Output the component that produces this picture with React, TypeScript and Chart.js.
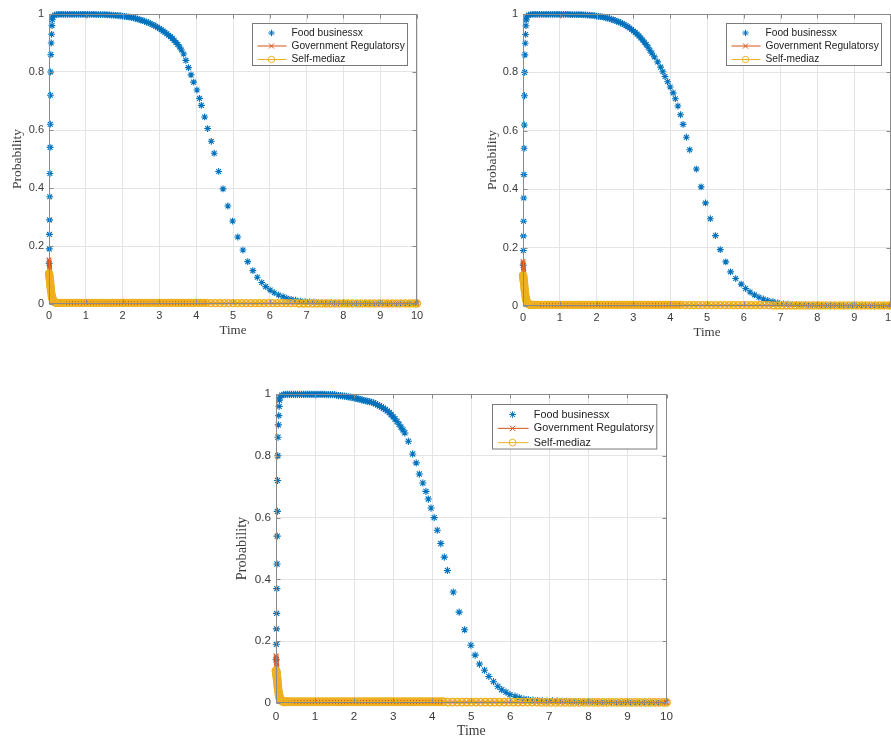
import React, { useEffect, useRef } from "react";
import { Chart, registerables } from "chart.js";

Chart.register(...registerables);

// ---------- data ----------
const X_TICKS = [0, 1, 2, 3, 4, 5, 6, 7, 8, 9, 10];
const Y_TICKS = [0, 0.2, 0.4, 0.6, 0.8, 1];
const SERIES_NAMES = ["Food businessx", "Government Regulatorsy", "Self-mediaz"];
const X_TITLE = "Time";
const Y_TITLE = "Probability";

// Food business, shared start (t = 0 .. 1.5), same in all three panels
const FOOD_HEAD_T = [
  0, 0.004, 0.008, 0.012, 0.016, 0.02, 0.025, 0.03, 0.035, 0.04, 0.045, 0.05, 0.06, 0.07, 0.08, 0.09, 0.1,
  0.15, 0.2, 0.25, 0.3, 0.35, 0.4, 0.45, 0.5, 0.55, 0.6, 0.65, 0.7, 0.75, 0.8, 0.85, 0.9, 0.95, 1.0,
  1.05, 1.1, 1.15, 1.2, 1.25, 1.3, 1.35, 1.4, 1.45, 1.5,
];
const FOOD_HEAD = [
  0.10, 0.14, 0.19, 0.24, 0.29, 0.37, 0.45, 0.54, 0.62, 0.72, 0.80, 0.86, 0.90, 0.93, 0.96, 0.98, 0.99,
  0.996, 0.998, 0.999, 0.999, 0.999, 0.999, 0.999, 0.999, 0.999, 0.999, 0.999, 0.999, 0.999, 0.999, 0.999, 0.999, 0.999, 0.999,
  0.999, 0.999, 0.999, 0.999, 0.999, 0.998, 0.998, 0.998, 0.998, 0.998,
];

// Panel 1 (top left)
const FOOD1_T = [
  1.55, 1.6, 1.65, 1.7, 1.75, 1.8, 1.85, 1.9, 1.95, 2.0,
  2.05, 2.1, 2.15, 2.2, 2.25, 2.3, 2.35, 2.4, 2.45, 2.5,
  2.55, 2.6, 2.65, 2.7, 2.75, 2.8, 2.85, 2.9, 2.95, 3.0,
  3.05, 3.1, 3.15, 3.2, 3.25, 3.3, 3.35, 3.4, 3.45, 3.5, 3.55, 3.6,
  3.66, 3.72, 3.79, 3.86, 3.93, 4.02, 4.09, 4.14, 4.23, 4.31, 4.41, 4.49, 4.61, 4.73, 4.86, 4.99,
  5.13, 5.27, 5.40, 5.54, 5.66, 5.78, 5.89, 6.01, 6.12, 6.24, 6.36, 6.46, 6.58, 6.70, 6.83, 6.96,
];
const FOOD1 = [
  0.998, 0.997, 0.997, 0.996, 0.996, 0.995, 0.995, 0.994, 0.994, 0.993,
  0.992, 0.991, 0.990, 0.989, 0.988, 0.987, 0.985, 0.983, 0.981, 0.979,
  0.977, 0.975, 0.972, 0.970, 0.967, 0.964, 0.961, 0.958, 0.954, 0.950,
  0.946, 0.941, 0.937, 0.932, 0.927, 0.922, 0.916, 0.909, 0.902, 0.895, 0.886, 0.876,
  0.862, 0.840, 0.815, 0.790, 0.765, 0.738, 0.709, 0.685, 0.645, 0.605, 0.561, 0.520, 0.457, 0.397, 0.338, 0.286,
  0.231, 0.186, 0.146, 0.115, 0.092, 0.074, 0.060, 0.048, 0.039, 0.031, 0.025, 0.020, 0.016, 0.013, 0.010, 0.008,
];

// Panel 2 (top right)
const FOOD2_T = [
  1.55, 1.6, 1.65, 1.7, 1.75, 1.8, 1.85, 1.9, 1.95, 2.0,
  2.05, 2.1, 2.15, 2.2, 2.25, 2.3, 2.35, 2.4, 2.45, 2.5,
  2.55, 2.6, 2.65, 2.7, 2.75, 2.8, 2.85, 2.9, 2.95, 3.0,
  3.05, 3.1, 3.15, 3.2, 3.25, 3.3, 3.35, 3.4, 3.45, 3.5,
  3.57, 3.66, 3.74, 3.80, 3.86, 3.93, 4.00, 4.08, 4.14, 4.21, 4.28, 4.35, 4.44, 4.53, 4.71, 4.84,
  4.96, 5.09, 5.23, 5.36, 5.51, 5.64, 5.78, 5.93, 6.05, 6.17, 6.29, 6.41, 6.53, 6.65, 6.79, 6.92,
];
const FOOD2 = [
  0.998, 0.998, 0.997, 0.997, 0.996, 0.996, 0.995, 0.995, 0.994, 0.993,
  0.992, 0.991, 0.990, 0.989, 0.987, 0.986, 0.984, 0.982, 0.980, 0.978,
  0.975, 0.973, 0.970, 0.967, 0.964, 0.960, 0.956, 0.952, 0.947, 0.942,
  0.937, 0.931, 0.925, 0.918, 0.911, 0.903, 0.895, 0.886, 0.876, 0.866,
  0.853, 0.836, 0.818, 0.802, 0.786, 0.768, 0.750, 0.730, 0.710, 0.685, 0.655, 0.622, 0.578, 0.535, 0.469, 0.408,
  0.353, 0.299, 0.241, 0.193, 0.151, 0.117, 0.094, 0.075, 0.060, 0.048, 0.038, 0.030, 0.024, 0.019, 0.015, 0.011,
];

// Panel 3 (bottom)
const FOOD3_T = [
  1.55, 1.6, 1.65, 1.7, 1.75, 1.8, 1.85, 1.9, 1.95, 2.0,
  2.05, 2.1, 2.15, 2.2, 2.25, 2.3, 2.35, 2.4, 2.45, 2.5,
  2.55, 2.6, 2.65, 2.7, 2.75, 2.8, 2.85, 2.9, 2.95, 3.0,
  3.05, 3.1, 3.15, 3.2, 3.25, 3.3,
  3.39, 3.50, 3.59, 3.67, 3.76, 3.84, 3.90, 3.97, 4.05, 4.13, 4.22, 4.31, 4.39, 4.54, 4.69, 4.83, 4.99,
  5.10, 5.21, 5.34, 5.45, 5.57, 5.68, 5.78, 5.89, 5.99, 6.12, 6.23, 6.35, 6.46, 6.58, 6.70, 6.82, 6.94,
];
const FOOD3 = [
  0.996, 0.995, 0.995, 0.994, 0.993, 0.992, 0.991, 0.990, 0.989, 0.987,
  0.986, 0.984, 0.983, 0.981, 0.979, 0.978, 0.976, 0.975, 0.973, 0.971,
  0.968, 0.965, 0.962, 0.958, 0.954, 0.950, 0.945, 0.940, 0.933, 0.926,
  0.919, 0.911, 0.902, 0.893, 0.884, 0.874,
  0.847, 0.806, 0.777, 0.741, 0.712, 0.685, 0.660, 0.631, 0.600, 0.559, 0.516, 0.472, 0.429, 0.359, 0.294, 0.237, 0.187,
  0.155, 0.126, 0.106, 0.086, 0.069, 0.054, 0.043, 0.035, 0.027, 0.022, 0.017, 0.013, 0.011, 0.009, 0.008, 0.007, 0.006,
];

// Food business, shared tail (t = 7 .. 10)
const FOOD_TAIL_T = [
  7.08, 7.2, 7.32, 7.44, 7.56, 7.68, 7.8, 7.92, 8.04, 8.16, 8.28, 8.4, 8.52,
  8.64, 8.76, 8.88, 9.0, 9.12, 9.24, 9.36, 9.48, 9.6, 9.72, 9.84, 9.96,
];
const FOOD_TAIL = [
  0.007, 0.006, 0.005, 0.005, 0.004, 0.004, 0.003, 0.003, 0.003, 0.002, 0.002, 0.002, 0.002,
  0.002, 0.001, 0.001, 0.001, 0.001, 0.001, 0.001, 0.001, 0.001, 0.001, 0.001, 0.001,
];

// Government regulatory & self-media (same in all panels)
const GOV_T = [
  0, 0.004, 0.008, 0.012, 0.016, 0.02, 0.025, 0.03, 0.035, 0.04, 0.045, 0.05, 0.06, 0.07, 0.08, 0.09, 0.1,
  0.125, 0.15, 0.175, 0.2, 0.25, 0.3,
  0.36, 0.44, 0.52, 0.60, 0.68, 0.76, 0.84, 0.92, 1.00, 1.08,
  1.16, 1.24, 1.32, 1.40, 1.48, 1.56, 1.64, 1.72, 1.80, 1.88,
  1.96, 2.04, 2.12, 2.20, 2.28, 2.36, 2.44, 2.52, 2.60, 2.68,
  2.76, 2.84, 2.92, 3.00, 3.08, 3.16, 3.24, 3.32, 3.40, 3.48,
  3.56, 3.64, 3.72, 3.80, 3.88, 3.96, 4.04, 4.12, 4.20, 4.28,
  4.40, 4.52, 4.64, 4.76, 4.88, 5.00, 5.12, 5.24, 5.36, 5.48,
  5.60, 5.72, 5.84, 5.96, 6.08, 6.20, 6.32, 6.44, 6.56, 6.68,
  6.80, 6.92, 7.04, 7.16, 7.28, 7.40, 7.52, 7.64, 7.76, 7.88,
  8.00, 8.12, 8.24, 8.36, 8.48, 8.60, 8.72, 8.84, 8.96, 9.08,
  9.20, 9.32, 9.44, 9.56, 9.68, 9.80, 9.92, 10.0,
];
const GOV = [
  0.152, 0.146, 0.139, 0.131, 0.123, 0.115, 0.106, 0.097, 0.089, 0.081, 0.074, 0.067, 0.056, 0.046, 0.038, 0.031, 0.025,
  0.016, 0.011, 0.008, 0.006, 0.004, 0.003,
  0.003, 0.003, 0.003, 0.003, 0.003, 0.003, 0.003, 0.003, 0.003, 0.003,
  0.003, 0.003, 0.003, 0.003, 0.003, 0.003, 0.003, 0.003, 0.003, 0.003,
  0.003, 0.003, 0.003, 0.003, 0.003, 0.003, 0.003, 0.003, 0.003, 0.003,
  0.003, 0.003, 0.003, 0.003, 0.003, 0.003, 0.003, 0.003, 0.003, 0.003,
  0.003, 0.003, 0.003, 0.003, 0.003, 0.003, 0.003, 0.003, 0.003, 0.003,
  0.003, 0.003, 0.003, 0.003, 0.003, 0.003, 0.003, 0.003, 0.003, 0.003,
  0.003, 0.003, 0.003, 0.003, 0.003, 0.003, 0.003, 0.003, 0.003, 0.003,
  0.002, 0.002, 0.002, 0.002, 0.002, 0.002, 0.002, 0.002, 0.002, 0.002,
  0.002, 0.002, 0.002, 0.002, 0.002, 0.002, 0.002, 0.002, 0.002, 0.002,
  0.002, 0.002, 0.002, 0.002, 0.002, 0.002, 0.002, 0.002,
];
const SELF = [
  0.105, 0.102, 0.099, 0.095, 0.091, 0.087, 0.082, 0.076, 0.070, 0.063, 0.057, 0.051, 0.041, 0.032, 0.025, 0.020, 0.016,
  0.010, 0.007, 0.005, 0.004, 0.004, 0.004,
  0.004, 0.004, 0.004, 0.004, 0.004, 0.004, 0.004, 0.004, 0.004, 0.004,
  0.004, 0.004, 0.004, 0.004, 0.004, 0.004, 0.004, 0.004, 0.004, 0.004,
  0.004, 0.004, 0.004, 0.004, 0.004, 0.004, 0.004, 0.004, 0.004, 0.004,
  0.004, 0.004, 0.004, 0.004, 0.004, 0.004, 0.004, 0.004, 0.004, 0.004,
  0.004, 0.004, 0.004, 0.004, 0.004, 0.004, 0.004, 0.004, 0.004, 0.004,
  0.003, 0.003, 0.003, 0.003, 0.003, 0.003, 0.003, 0.003, 0.003, 0.003,
  0.003, 0.003, 0.003, 0.003, 0.003, 0.003, 0.003, 0.003, 0.003, 0.003,
  0.002, 0.002, 0.002, 0.002, 0.002, 0.002, 0.002, 0.002, 0.002, 0.002,
  0.002, 0.002, 0.002, 0.002, 0.002, 0.002, 0.002, 0.002, 0.002, 0.002,
  0.002, 0.002, 0.002, 0.002, 0.002, 0.002, 0.002, 0.002,
];

// ---------- styling ----------
const BLUE = "#0072BD";
const ORANGE = "#D95319";
const YELLOW = "#EDB120";
const SANS = "'Liberation Sans', Arial, sans-serif";
const SERIF = "'Liberation Serif', 'Times New Roman', serif";

function zip(t: number[], y: number[]) {
  const n = Math.min(t.length, y.length);
  const out: { x: number; y: number }[] = [];
  for (let i = 0; i < n; i++) out.push({ x: t[i], y: y[i] });
  return out;
}

function drawMarker(ctx: CanvasRenderingContext2D, kind: string, x: number, y: number, r: number, color: string) {
  ctx.save();
  ctx.strokeStyle = color;
  ctx.lineWidth = 1;
  ctx.beginPath();
  if (kind === "star") {
    ctx.moveTo(x - r, y); ctx.lineTo(x + r, y);
    ctx.moveTo(x, y - r); ctx.lineTo(x, y + r);
    const d = r * 0.707;
    ctx.moveTo(x - d, y - d); ctx.lineTo(x + d, y + d);
    ctx.moveTo(x - d, y + d); ctx.lineTo(x + d, y - d);
  } else if (kind === "cross") {
    const d = r * 0.8;
    ctx.moveTo(x - d, y - d); ctx.lineTo(x + d, y + d);
    ctx.moveTo(x - d, y + d); ctx.lineTo(x + d, y - d);
  } else {
    ctx.arc(x, y, r, 0, Math.PI * 2);
  }
  ctx.stroke();
  ctx.restore();
}

const boxPlugin = {
  id: "matlabBox",
  afterDatasetsDraw(chart: any) {
    const { ctx, chartArea: ca, scales } = chart;
    ctx.save();
    ctx.strokeStyle = "#8a8a8a";
    ctx.lineWidth = 1;
    const l = Math.round(ca.left) + 0.5, r = Math.round(ca.right) - 0.5;
    const t = Math.round(ca.top) + 0.5, b = Math.round(ca.bottom) - 0.5;
    ctx.strokeRect(l, t, r - l, b - t);
    ctx.beginPath();
    const tl = 4;
    X_TICKS.forEach((v) => {
      const px = Math.round(scales.x.getPixelForValue(v)) + 0.5;
      ctx.moveTo(px, b); ctx.lineTo(px, b - tl);
      ctx.moveTo(px, t); ctx.lineTo(px, t + tl);
    });
    Y_TICKS.forEach((v) => {
      const py = Math.round(scales.y.getPixelForValue(v)) + 0.5;
      ctx.moveTo(l, py); ctx.lineTo(l + tl, py);
      ctx.moveTo(r, py); ctx.lineTo(r - tl, py);
    });
    ctx.stroke();
    ctx.restore();
  },
};

const legendPlugin = {
  id: "matlabLegend",
  afterDraw(chart: any, _args: any, opts: any) {
    const { ctx, chartArea: ca } = chart;
    const s = opts.scale || 1;
    const w = 155 * s, h = 42 * s;
    const x0 = Math.round(ca.right - 10 * s - w) + 0.5;
    const y0 = Math.round(ca.top + 9 * s) + 0.5;
    ctx.save();
    ctx.fillStyle = "#ffffff";
    ctx.fillRect(x0, y0, w, h);
    ctx.strokeStyle = "#7a7a7a";
    ctx.lineWidth = 1;
    ctx.strokeRect(x0, y0, w, h);
    const rows = [9.5, 22.5, 36];
    const kinds = ["star", "cross", "circle"];
    const colors = [BLUE, ORANGE, YELLOW];
    SERIES_NAMES.forEach((name, i) => {
      const cy = y0 + rows[i] * s;
      const mx = x0 + 19 * s;
      if (i > 0) {
        ctx.strokeStyle = colors[i];
        ctx.lineWidth = 1;
        ctx.beginPath();
        ctx.moveTo(x0 + 5 * s, cy);
        ctx.lineTo(x0 + 34 * s, cy);
        ctx.stroke();
      }
      drawMarker(ctx, kinds[i], mx, cy, 3.2 * s, colors[i]);
      ctx.fillStyle = "#222";
      ctx.font = `${(10.2 * s).toFixed(1)}px ${SANS}`;
      ctx.textBaseline = "middle";
      ctx.textAlign = "left";
      ctx.fillText(name, x0 + 39 * s, cy);
    });
    ctx.restore();
  },
};

type PanelProps = {
  area: { L: number; T: number; R: number; B: number };
  foodT: number[];
  food: number[];
  s: number;
  yTitlePad: number;
  xTitlePad: number;
  xTickPad: number;
};

function Panel({ area, foodT, food, s, yTitlePad, xTitlePad, xTickPad }: PanelProps) {
  const ref = useRef<HTMLCanvasElement | null>(null);
  const left = area.L - 49;
  const top = area.T - 14;
  const width = area.R - area.L + 62;
  const height = area.B - area.T + 56;

  useEffect(() => {
    if (!ref.current) return;
    const tickFont = { family: SANS, size: 11 * s };
    const chart = new Chart(ref.current, {
      type: "scatter",
      data: {
        datasets: [
          {
            label: SERIES_NAMES[0],
            data: zip(foodT, food),
            showLine: false,
            pointStyle: "star",
            pointRadius: 3.4 * s,
            pointBorderColor: BLUE,
            pointBackgroundColor: BLUE,
            pointBorderWidth: 1.1,
            borderColor: BLUE,
            order: 3,
            clip: false as any,
          },
          {
            label: SERIES_NAMES[1],
            data: zip(GOV_T, GOV),
            showLine: true,
            borderColor: ORANGE,
            borderWidth: 1,
            pointStyle: "crossRot",
            pointRadius: 3.2 * s,
            pointBorderColor: ORANGE,
            pointBorderWidth: 1.2,
            order: 2,
            clip: false as any,
          },
          {
            label: SERIES_NAMES[2],
            data: zip(GOV_T, SELF),
            showLine: true,
            borderColor: YELLOW,
            borderWidth: 1,
            pointStyle: "circle",
            pointRadius: 3.4 * s,
            pointBorderColor: YELLOW,
            pointBackgroundColor: "rgba(0,0,0,0)",
            pointBorderWidth: 1.6,
            order: 1,
            clip: false as any,
          },
        ],
      },
      options: {
        animation: false,
        responsive: false,
        maintainAspectRatio: false,
        devicePixelRatio: 1,
        layout: { padding: { left: 0, top: 14, right: 13, bottom: 0 } },
        plugins: {
          legend: { display: false },
          tooltip: { enabled: false },
          matlabLegend: { scale: s },
        } as any,
        scales: {
          x: {
            type: "linear",
            min: 0,
            max: 10,
            afterFit: (sc: any) => { sc.height = 42; },
            afterBuildTicks: (sc: any) => { sc.ticks = X_TICKS.map((v) => ({ value: v })); },
            ticks: {
              padding: xTickPad,
              font: tickFont,
              color: "#3a3a3a",
              maxRotation: 0,
              autoSkip: false,
              callback: (v: any) => String(Number(v)),
            },
            grid: { color: "#e4e4e4", drawTicks: false, lineWidth: 1 },
            border: { display: false },
            title: {
              display: true,
              text: X_TITLE,
              font: { family: SERIF, size: 13 * s },
              color: "#3a3a3a",
              padding: { top: 0, bottom: xTitlePad },
            },
          },
          y: {
            type: "linear",
            min: 0,
            max: 1,
            afterFit: (sc: any) => { sc.width = 49; },
            afterBuildTicks: (sc: any) => { sc.ticks = Y_TICKS.map((v) => ({ value: v })); },
            ticks: {
              padding: 5,
              font: tickFont,
              color: "#3a3a3a",
              autoSkip: false,
              callback: (v: any) => String(Number(Number(v).toFixed(2))),
            },
            grid: { color: "#e4e4e4", drawTicks: false, lineWidth: 1 },
            border: { display: false },
            title: {
              display: true,
              text: Y_TITLE,
              font: { family: SERIF, size: 13.5 * s },
              color: "#3a3a3a",
              padding: { top: yTitlePad, bottom: 0 },
            },
          },
        },
      } as any,
      plugins: [boxPlugin, legendPlugin],
    });
    return () => chart.destroy();
  }, []);

  return (
    <canvas
      ref={ref}
      width={width}
      height={height}
      style={{ position: "absolute", left, top, width, height }}
    />
  );
}

export default function App() {
  return (
    <div
      style={{
        position: "fixed",
        left: 0,
        top: 0,
        width: 891,
        height: 738,
        overflow: "hidden",
        background: "#ffffff",
      }}
    >
      <Panel
        area={{ L: 49, T: 14, R: 417, B: 304 }}
        foodT={[...FOOD_HEAD_T, ...FOOD1_T, ...FOOD_TAIL_T]}
        food={[...FOOD_HEAD, ...FOOD1, ...FOOD_TAIL]}
        s={1}
        yTitlePad={9}
        xTitlePad={8}
        xTickPad={5}
      />
      <Panel
        area={{ L: 523, T: 14, R: 891, B: 306 }}
        foodT={[...FOOD_HEAD_T, ...FOOD2_T, ...FOOD_TAIL_T]}
        food={[...FOOD_HEAD, ...FOOD2, ...FOOD_TAIL]}
        s={1}
        yTitlePad={10}
        xTitlePad={8}
        xTickPad={5}
      />
      <Panel
        area={{ L: 276, T: 394, R: 667, B: 703 }}
        foodT={[...FOOD_HEAD_T, ...FOOD3_T, ...FOOD_TAIL_T]}
        food={[...FOOD_HEAD, ...FOOD3, ...FOOD_TAIL]}
        s={1.06}
        yTitlePad={7}
        xTitlePad={5}
        xTickPad={7}
      />
    </div>
  );
}
